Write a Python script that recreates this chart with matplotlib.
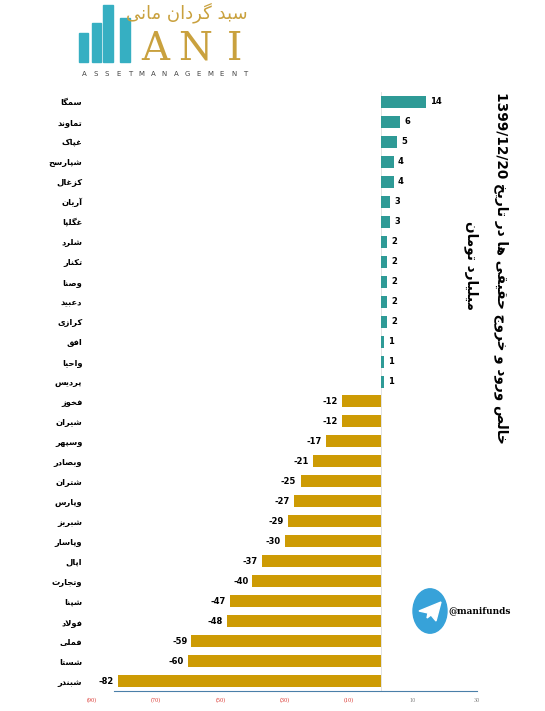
import re
import numpy as np
import matplotlib
matplotlib.use('Agg')
import matplotlib.pyplot as plt
from matplotlib.patches import Rectangle, Circle, Polygon
from matplotlib.ticker import FixedLocator, FuncFormatter

# داده ها
names = ['سمگا', 'تماوند', 'غپاک', 'شپارسح', 'کزغال', 'آریان', 'غگلپا', 'شلرد',
         'تکنار', 'وصنا', 'دعبید', 'کرازی', 'افق', 'واحیا', 'پردیس',
         'فخوز', 'شیران', 'وسپهر', 'وبصادر', 'شتران', 'وپارس', 'شبریز',
         'وپاسار', 'اپال', 'وتجارت', 'شپنا', 'فولاد', 'فملی', 'شستا', 'شبندر']
values = [14, 6, 5, 4, 4, 3, 3, 2, 2, 2, 2, 2, 1, 1, 1,
          -12, -12, -17, -21, -25, -27, -29, -30, -37, -40, -47, -48, -59, -60, -82]
tick_vals = [-90, -70, -50, -30, -10, 10, 30]
title_line1 = 'خالص ورود و خروج حقیقی ها در تاریخ 1399/12/20'
title_line2 = 'میلیارد تومان'

# شکل دهی حروف فارسی (matplotlib خودش این کار را نمی کند)
FORMS = {
    'ا': ('\uFE8D', '\uFE8E', None, None), 'آ': ('\uFE81', '\uFE82', None, None),
    'ب': ('\uFE8F', '\uFE90', '\uFE91', '\uFE92'), 'پ': ('\uFB56', '\uFB57', '\uFB58', '\uFB59'),
    'ت': ('\uFE95', '\uFE96', '\uFE97', '\uFE98'), 'ج': ('\uFE9D', '\uFE9E', '\uFE9F', '\uFEA0'),
    'ح': ('\uFEA1', '\uFEA2', '\uFEA3', '\uFEA4'), 'خ': ('\uFEA5', '\uFEA6', '\uFEA7', '\uFEA8'),
    'د': ('\uFEA9', '\uFEAA', None, None), 'ر': ('\uFEAD', '\uFEAE', None, None),
    'ز': ('\uFEAF', '\uFEB0', None, None), 'س': ('\uFEB1', '\uFEB2', '\uFEB3', '\uFEB4'),
    'ش': ('\uFEB5', '\uFEB6', '\uFEB7', '\uFEB8'), 'ص': ('\uFEB9', '\uFEBA', '\uFEBB', '\uFEBC'),
    'ع': ('\uFEC9', '\uFECA', '\uFECB', '\uFECC'), 'غ': ('\uFECD', '\uFECE', '\uFECF', '\uFED0'),
    'ف': ('\uFED1', '\uFED2', '\uFED3', '\uFED4'), 'ق': ('\uFED5', '\uFED6', '\uFED7', '\uFED8'),
    'ک': ('\uFB8E', '\uFB8F', '\uFB90', '\uFB91'), 'گ': ('\uFB92', '\uFB93', '\uFB94', '\uFB95'),
    'ل': ('\uFEDD', '\uFEDE', '\uFEDF', '\uFEE0'), 'م': ('\uFEE1', '\uFEE2', '\uFEE3', '\uFEE4'),
    'ن': ('\uFEE5', '\uFEE6', '\uFEE7', '\uFEE8'), 'و': ('\uFEED', '\uFEEE', None, None),
    'ه': ('\uFEE9', '\uFEEA', '\uFEEB', '\uFEEC'), 'ی': ('\uFBFC', '\uFBFD', '\uFBFE', '\uFBFF'),
}


def fa(s):
    out = []
    i = 0
    prev_joins = False
    while i < len(s):
        c = s[i]
        if c not in FORMS:
            out.append(c)
            prev_joins = False
            i += 1
            continue
        nxt = s[i + 1] if i + 1 < len(s) else ''
        if c == 'ل' and nxt in ('ا', 'آ'):
            out.append('\uFEFC' if prev_joins else '\uFEFB')
            prev_joins = False
            i += 2
            continue
        iso, fin, ini, med = FORMS[c]
        next_joins = ini is not None and nxt in FORMS
        if prev_joins and next_joins:
            out.append(med)
        elif prev_joins:
            out.append(fin)
        elif next_joins:
            out.append(ini)
        else:
            out.append(iso)
        prev_joins = ini is not None
        i += 1
    vis = ''.join(reversed(out))
    return re.sub(r'[0-9/]+', lambda m: m.group(0)[::-1], vis)


teal = '#2E9A96'
gold = '#CD9B04'
colors = [teal if v > 0 else gold for v in values]

W, H = 545, 711
fig = plt.figure(figsize=(5.45, 7.11), dpi=100)
ax = fig.add_axes([92 / W, 1 - 691 / H, (477 - 92) / W, 599 / H])

y = np.arange(len(names))
bars = ax.barh(y, values, height=0.6, color=colors)
ax.bar_label(bars, padding=3, fontsize=6, fontweight='bold')
ax.axvline(0, color='#dddddd', lw=0.6, zorder=0)

ax.set_ylim(len(names) - 0.5, -0.5)
ax.set_xlim(-90, 30)
ax.set_yticks(y)
ax.set_yticklabels([fa(n) for n in names], fontsize=6, fontweight='bold',
                   family='DejaVu Sans')
ax.tick_params(axis='y', length=0, pad=7)

ax.xaxis.set_major_locator(FixedLocator(tick_vals))
ax.xaxis.set_major_formatter(FuncFormatter(
    lambda v, p: '(%d)' % abs(v) if v < 0 else '%d' % v))
ax.tick_params(axis='x', length=0, labelsize=3.5, pad=5)
for lab, v in zip(ax.get_xticklabels(), tick_vals):
    lab.set_color('#d9312b' if v < 0 else '#808080')
    lab.set_family('DejaVu Serif')

for s in ['top', 'right', 'left']:
    ax.spines[s].set_visible(False)
ax.spines['bottom'].set_color('#4a7fa8')
ax.spines['bottom'].set_linewidth(0.8)
ax.spines['bottom'].set_bounds(-83, 30)

# عنوان عمودی
fig.text(501 / W, 1 - 268 / H, fa(title_line1), rotation=-90, ha='center',
         va='center', fontsize=9.8, fontweight='bold')
fig.text(471 / W, 1 - 265 / H, fa(title_line2), rotation=-90, ha='center',
         va='center', fontsize=9.8, fontweight='bold')

# لوگو
for x0, x1, top in [(79, 88, 33), (92, 101, 23), (103, 113, 5), (120, 130, 18)]:
    fig.patches.append(Rectangle((x0 / W, 1 - 62 / H), (x1 - x0) / W, (62 - top) / H,
                                 transform=fig.transFigure, color='#36AFC2'))
for k, letter in enumerate('ANI'):
    fig.text((155 + k * 40) / W, 1 - 60 / H, letter, fontsize=28, color='#C9A13E',
             family='DejaVu Serif', ha='center', va='baseline')
fig.text(187 / W, 1 - 13 / H, fa('سبد گردان مانی'), fontsize=13, color='#C9A13E',
         ha='center', va='center')
for k, letter in enumerate('ASSETMANAGEMENT'):
    fig.text((84 + k * 11.5) / W, 1 - 70.5 / H, letter, fontsize=5,
             color='#444444', ha='center', va='top')

# تلگرام
fig.patches.append(Circle((430 / W, 1 - 611 / H), 17 / W, transform=fig.transFigure,
                          color='#37A2D9'))
plane = np.array([[419, 611], [441, 602], [436, 621], [431, 615], [427, 618], [428, 613]])
fig.patches.append(Polygon(np.c_[plane[:, 0] / W, 1 - plane[:, 1] / H],
                           transform=fig.transFigure, color='white'))
fig.text(448 / W, 1 - 611 / H, '@manifunds', fontsize=6.5, fontweight='bold',
         family='DejaVu Serif', va='center')

fig.savefig('out.png', dpi=100)
